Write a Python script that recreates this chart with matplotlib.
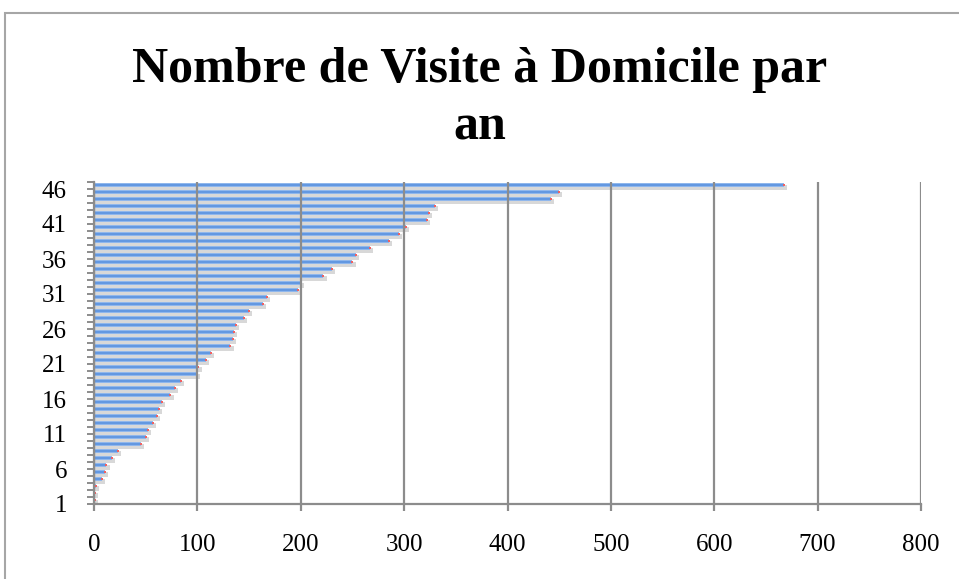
import numpy as np
import matplotlib.pyplot as plt
import matplotlib.transforms as mtransforms
from matplotlib.patches import Rectangle

# données (visites par an, triées)
categories = list(range(1, 47))
visites = [1, 1, 2, 8, 11, 12, 17, 23, 45, 50,
           52, 57, 61, 63, 66, 74, 78, 84, 100, 101,
           108, 113, 132, 134, 135, 137, 145, 150, 163, 167,
           197, 200, 222, 230, 250, 253, 267, 285, 295, 302,
           322, 324, 330, 442, 450, 667]
xticks = [0, 100, 200, 300, 400, 500, 600, 700, 800]
yticks = [1, 6, 11, 16, 21, 26, 31, 36, 41, 46]

plt.rcParams['font.family'] = ['Liberation Serif', 'DejaVu Serif']

fig = plt.figure(figsize=(9.59, 5.79), dpi=100)
ax = fig.add_axes([94 / 959, 75.5 / 579, 827 / 959, 322 / 579])

# cadre gris autour du graphique
fig.patches.append(Rectangle((5 / 959, -0.1), 1.1, (579 - 13) / 579 + 0.1,
                             transform=fig.transFigure, fill=False,
                             edgecolor='#a6a6a6', linewidth=1.5, zorder=0))

y = np.array(categories)
v = np.array(visites)

# ombre, barres, petit point rouge au bout (sous la grille)
ax.barh(y - 0.34, v + 3, height=0.72, color='#d8d8d8', zorder=1)
ax.barh(y, v, height=0.46, color='#90b7ec', zorder=1.2)
ax.barh(y, v, height=0.26, color='#6398e1', zorder=1.4)
ax.scatter(v, y, s=4, color='#f26060', marker='s', linewidths=0, zorder=1.6)

ax.set_xlim(0, 800)
ax.set_ylim(0.5, 46.5)
ax.set_xticks(xticks)
ax.set_yticks(yticks)
ax.set_yticks(np.arange(0.5, 47, 1), minor=True)

# la grille passe par-dessus les barres
ax.set_axisbelow(False)
ax.grid(axis='x', color='#8c8c8c', linewidth=1.6)
for s in ['top', 'right']:
    ax.spines[s].set_visible(False)
for s in ['left', 'bottom']:
    ax.spines[s].set_color('#8c8c8c')
    ax.spines[s].set_linewidth(1.6)
    ax.spines[s].set_zorder(5)

ax.tick_params(axis='x', length=5, width=1.6, color='#8c8c8c', pad=17,
               labelsize=18)
ax.tick_params(axis='y', which='major', length=0, pad=19.5, labelsize=18)
ax.tick_params(axis='y', which='minor', length=5, width=1.4, color='#8c8c8c')

# les étiquettes de l'axe y sont un peu plus bas que les barres
off = mtransforms.ScaledTranslation(0, -4 / 100, fig.dpi_scale_trans)
for lab in ax.get_yticklabels():
    lab.set_transform(lab.get_transform() + off)

fig.text(0.5, 1 - 82 / 579, 'Nombre de Visite à Domicile par', ha='center',
         va='baseline', fontsize=36, fontweight='bold')
fig.text(0.5, 1 - 140 / 579, 'an', ha='center',
         va='baseline', fontsize=36, fontweight='bold')

fig.savefig('out.png', dpi=100)
